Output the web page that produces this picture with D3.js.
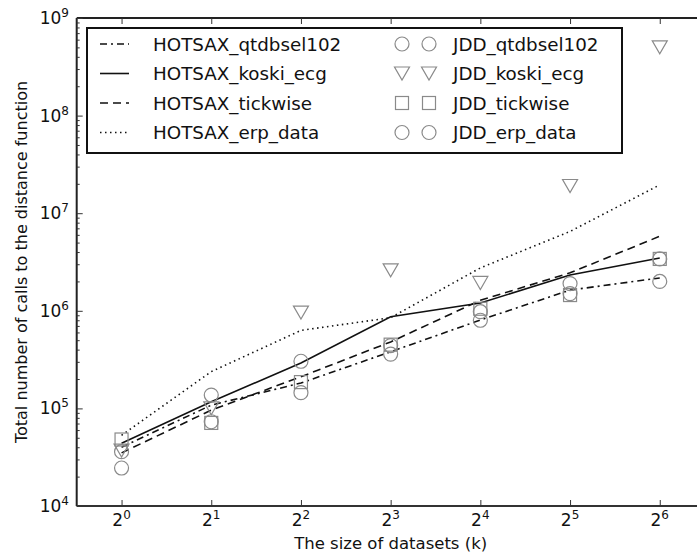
<!DOCTYPE html>
<html>
<head>
<meta charset="utf-8">
<script src="https://cdn.jsdelivr.net/npm/d3@7"></script>
<style>
  html, body { margin: 0; padding: 0; background: #fff; }
  svg { display: block; font-family: "DejaVu Sans", sans-serif; }
</style>
</head>
<body>
<svg id="chart" width="697" height="555"></svg>
<script>
// Dataset sizes (k) on a log2 axis
const sizes = [1, 2, 4, 8, 16, 32, 64];
const sizeExponents = [0, 1, 2, 3, 4, 5, 6];
const yExponents = [4, 5, 6, 7, 8, 9];

// HOTSAX runs (lines)
const hotsaxQtdbsel102 = [40000, 108000, 182000, 380000, 805000, 1630000, 2170000];
const hotsaxKoskiEcg   = [44000, 117000, 292000, 870000, 1200000, 2330000, 3470000];
const hotsaxTickwise   = [35000, 96000, 211000, 480000, 1280000, 2450000, 5800000];
const hotsaxErpData    = [53000, 238000, 630000, 850000, 2750000, 6500000, 19500000];

// JDD runs (markers)
const jddQtdbsel102 = [24500, 73000, 145000, 360000, 800000, 1500000, 2000000];
const jddKoskiEcg   = [37000, 100000, 960000, 2600000, 1930000, 19000000, 500000000];
const jddTickwise   = [48000, 71000, 186000, 450000, 1050000, 1450000, 3400000];
const jddErpData    = [36000, 137000, 304000, 440000, 980000, 1900000, 3400000];

const lineNames = ["HOTSAX_qtdbsel102", "HOTSAX_koski_ecg", "HOTSAX_tickwise", "HOTSAX_erp_data"];
const markerNames = ["JDD_qtdbsel102", "JDD_koski_ecg", "JDD_tickwise", "JDD_erp_data"];

const lineSeries = [
  { name: lineNames[0], values: hotsaxQtdbsel102, dash: "7,4,2,4" },
  { name: lineNames[1], values: hotsaxKoskiEcg,   dash: null },
  { name: lineNames[2], values: hotsaxTickwise,   dash: "8,5" },
  { name: lineNames[3], values: hotsaxErpData,    dash: "1.5,3.5" }
];
const markerSeries = [
  { name: markerNames[0], values: jddQtdbsel102, shape: "circle" },
  { name: markerNames[1], values: jddKoskiEcg,   shape: "triangle" },
  { name: markerNames[2], values: jddTickwise,   shape: "square" },
  { name: markerNames[3], values: jddErpData,    shape: "circle" }
];

const svg = d3.select("#chart");
const plotLeft = 76.7, plotTop = 18, plotBottom = 506, plotRight = 704.6;

const x = d3.scaleLog().base(2).domain([Math.pow(2, -0.5), Math.pow(2, 6.5)]).range([plotLeft, plotRight]);
const y = d3.scaleLog().domain([1e4, 1e9]).range([plotBottom, plotTop]);

const ink = "#111";
const markGray = "#8a8a8a";

// Frame: left, top, bottom spines (right spine lies beyond the canvas)
const frame = svg.append("g");
frame.append("line").attr("x1", plotLeft).attr("x2", plotLeft).attr("y1", plotTop).attr("y2", plotBottom)
  .attr("stroke", "#222").attr("stroke-width", 2);
frame.append("line").attr("x1", plotLeft).attr("x2", plotRight).attr("y1", plotTop).attr("y2", plotTop)
  .attr("stroke", "#222").attr("stroke-width", 2);
frame.append("line").attr("x1", plotLeft).attr("x2", plotRight).attr("y1", plotBottom).attr("y2", plotBottom)
  .attr("stroke", "#333").attr("stroke-width", 2.2);

// Inward ticks on the x axis (bottom and top)
const xBottom = svg.append("g").attr("transform", `translate(0,${plotBottom})`)
  .call(d3.axisBottom(x).tickValues(sizes).tickSizeInner(-6).tickSizeOuter(0).tickFormat(""));
const xTop = svg.append("g").attr("transform", `translate(0,${plotTop})`)
  .call(d3.axisTop(x).tickValues(sizes).tickSizeInner(-6).tickSizeOuter(0).tickFormat(""));
[xBottom, xTop].forEach(g => {
  g.select(".domain").remove();
  g.selectAll(".tick line").attr("stroke", "#333").attr("stroke-width", 1);
});

// Inward major and minor ticks on the y axis
const majors = yExponents.map(e => Math.pow(10, e));
const minors = [];
for (let e = 4; e < 9; e++) for (let m = 2; m <= 9; m++) minors.push(m * Math.pow(10, e));
const yMajor = svg.append("g").attr("transform", `translate(${plotLeft},0)`)
  .call(d3.axisLeft(y).tickValues(majors).tickSizeInner(-6).tickSizeOuter(0).tickFormat(""));
const yMinor = svg.append("g").attr("transform", `translate(${plotLeft},0)`)
  .call(d3.axisLeft(y).tickValues(minors).tickSizeInner(-3).tickSizeOuter(0).tickFormat(""));
[yMajor, yMinor].forEach(g => {
  g.select(".domain").remove();
  g.selectAll(".tick line").attr("stroke", "#333").attr("stroke-width", 1);
});

// Tick labels with superscript exponents
const xLab = svg.append("g");
sizeExponents.forEach((e, i) => {
  const t = xLab.append("text")
    .attr("x", x(sizes[i])).attr("y", 526)
    .attr("text-anchor", "middle")
    .attr("font-size", 17).attr("fill", "#111");
  t.append("tspan").text("2");
  t.append("tspan").attr("dy", -7).attr("font-size", 12).text(e);
});
const yLab = svg.append("g");
yExponents.forEach(e => {
  const t = yLab.append("text")
    .attr("x", 69).attr("y", y(Math.pow(10, e)) + 6)
    .attr("text-anchor", "end")
    .attr("font-size", 17).attr("fill", "#111");
  t.append("tspan").text("10");
  t.append("tspan").attr("dy", -7).attr("font-size", 12).text(e);
});

// Axis titles
svg.append("text")
  .attr("x", (plotLeft + plotRight) / 2).attr("y", 549)
  .attr("text-anchor", "middle").attr("font-size", 16.5).attr("fill", "#111")
  .text("The size of datasets (k)");
svg.append("text")
  .attr("transform", `translate(27,${(plotTop + plotBottom) / 2}) rotate(-90)`)
  .attr("text-anchor", "middle").attr("font-size", 16).attr("fill", "#111")
  .text("Total number of calls to the distance function");

// HOTSAX lines
const line = d3.line().x((d, i) => x(sizes[i])).y(d => y(d));
const lines = svg.append("g");
lineSeries.forEach(s => {
  lines.append("path").datum(s.values)
    .attr("d", line)
    .attr("fill", "none")
    .attr("stroke", ink)
    .attr("stroke-width", 1.6)
    .attr("stroke-dasharray", s.dash);
});

// Marker shapes
function drawMarker(g, shape, cx, cy) {
  if (shape === "circle") {
    g.append("circle").attr("cx", cx).attr("cy", cy).attr("r", 7)
      .attr("fill", "none").attr("stroke", markGray).attr("stroke-width", 1.2);
  } else if (shape === "triangle") {
    const w = 7.5, h = 13;
    g.append("path")
      .attr("d", `M${cx - w},${cy - h / 2}L${cx + w},${cy - h / 2}L${cx},${cy + h / 2}Z`)
      .attr("fill", "none").attr("stroke", markGray).attr("stroke-width", 1.2);
  } else {
    const s = 13;
    g.append("rect").attr("x", cx - s / 2).attr("y", cy - s / 2).attr("width", s).attr("height", s)
      .attr("fill", "none").attr("stroke", markGray).attr("stroke-width", 1.2);
  }
}

// JDD markers
const marks = svg.append("g");
markerSeries.forEach(s => {
  s.values.forEach((v, i) => drawMarker(marks, s.shape, x(sizes[i]), y(v)));
});

// Legend
const legend = svg.append("g");
legend.append("rect")
  .attr("x", 87).attr("y", 28).attr("width", 535).attr("height", 125)
  .attr("fill", "#fff").attr("stroke", "#111").attr("stroke-width", 2);
const rowY = [44, 73.5, 103, 132.5];
lineSeries.forEach((s, i) => {
  legend.append("line")
    .attr("x1", 100).attr("x2", 129).attr("y1", rowY[i]).attr("y2", rowY[i])
    .attr("stroke", ink).attr("stroke-width", 1.6)
    .attr("stroke-dasharray", s.dash);
  legend.append("text")
    .attr("x", 153).attr("y", rowY[i] + 6.7)
    .attr("font-size", 18.3).attr("fill", "#111")
    .text(s.name);
});
markerSeries.forEach((s, i) => {
  drawMarker(legend, s.shape, 402, rowY[i]);
  drawMarker(legend, s.shape, 429, rowY[i]);
  legend.append("text")
    .attr("x", 453).attr("y", rowY[i] + 6.7)
    .attr("font-size", 18.3).attr("fill", "#111")
    .text(s.name);
});
</script>
</body>
</html>
